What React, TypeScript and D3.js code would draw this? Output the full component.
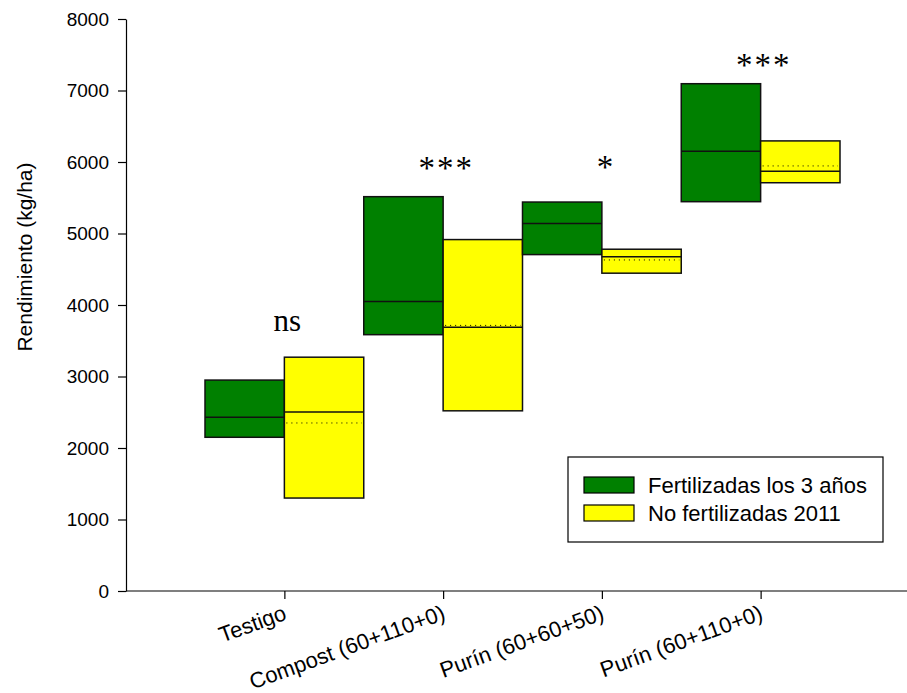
import React, { useEffect, useRef } from 'react';
import * as d3 from 'd3';

const categories = ['Testigo', 'Compost (60+110+0)', 'Purín (60+60+50)', 'Purín (60+110+0)'];
const seriesNames = ['Fertilizadas los 3 años', 'No fertilizadas 2011'];
const seriesColors = ['#008000', '#ffff00'];

// Fertilizadas los 3 años
const fertTop = [2950, 5515, 5440, 7095];
const fertMedian = [2430, 4050, 5140, 6150];
const fertBottom = [2150, 3585, 4705, 5445];

// No fertilizadas 2011
const noFertTop = [3270, 4915, 4780, 6295];
const noFertMedian = [2505, 3690, 4675, 5870];
const noFertMean = [2350, 3715, 4630, 5945];
const noFertBottom = [1300, 2520, 4445, 5710];

const signif = ['ns', '***', '*', '***'];
const signifY = [3640, 5760, 5775, 7200];

const yTicks = [0, 1000, 2000, 3000, 4000, 5000, 6000, 7000, 8000];

const App = () => {
    const ref = useRef<SVGSVGElement>(null);

    useEffect(() => {
        const svg = d3.select(ref.current);
        svg.selectAll('*').remove();

        const left = 126, top = 19, bottom = 591, right = 907;
        const sans = '"Liberation Sans", Arial, sans-serif';

        const y = d3.scaleLinear().domain([0, 8000]).range([bottom, top]);
        // boxes sit in 8 contiguous slots, two per category
        const slot = d3.scaleLinear().domain([0, 8]).range([205, 840]);
        const xCat = d3.scalePoint().domain(categories).range([slot(1), slot(7)]);

        const boxes = categories.flatMap((c, i) => [
            { s: 0, slot: i * 2, top: fertTop[i], med: fertMedian[i], bot: fertBottom[i], mean: null },
            { s: 1, slot: i * 2 + 1, top: noFertTop[i], med: noFertMedian[i], bot: noFertBottom[i], mean: noFertMean[i] },
        ]);

        const g = svg.append('g');

        g.selectAll('rect.box')
            .data(boxes)
            .enter()
            .append('rect')
            .attr('class', 'box')
            .attr('x', d => slot(d.slot))
            .attr('width', slot(1) - slot(0))
            .attr('y', d => y(d.top))
            .attr('height', d => y(d.bot) - y(d.top))
            .attr('fill', d => seriesColors[d.s])
            .attr('stroke', '#111')
            .attr('stroke-width', 1.5);

        g.selectAll('line.med')
            .data(boxes)
            .enter()
            .append('line')
            .attr('x1', d => slot(d.slot))
            .attr('x2', d => slot(d.slot + 1))
            .attr('y1', d => y(d.med))
            .attr('y2', d => y(d.med))
            .attr('stroke', '#111')
            .attr('stroke-width', 1.5);

        g.selectAll('line.mean')
            .data(boxes.filter(d => d.mean != null))
            .enter()
            .append('line')
            .attr('x1', d => slot(d.slot) + 2)
            .attr('x2', d => slot(d.slot + 1) - 2)
            .attr('y1', d => y(d.mean as number))
            .attr('y2', d => y(d.mean as number))
            .attr('stroke', '#000')
            .attr('stroke-width', 1)
            .attr('stroke-dasharray', '1,4');

        // significance marks
        g.selectAll('text.sig')
            .data(signif)
            .enter()
            .append('text')
            .attr('x', (d, i) => slot(i * 2 + 1) + 3)
            .attr('y', (d, i) => y(signifY[i]))
            .attr('text-anchor', 'middle')
            .style('font-family', '"Liberation Serif", "Times New Roman", serif')
            .style('font-size', d => (d === 'ns' ? '31px' : '33px'))
            .style('letter-spacing', d => (d.length > 2 ? '2px' : '0px'))
            .text(d => d);

        // y axis
        const yAxis = svg.append('g')
            .attr('transform', `translate(${left},0)`)
            .call(d3.axisLeft(y).tickValues(yTicks).tickFormat(d3.format('d')).tickSize(8).tickPadding(9).tickSizeOuter(0));
        yAxis.select('.domain').attr('stroke', '#000').attr('stroke-width', 1.2);
        yAxis.selectAll('line').attr('stroke', '#000').attr('stroke-width', 1.2);
        yAxis.selectAll('text')
            .style('font-family', sans)
            .style('font-size', '19px')
            .attr('fill', '#000');

        // x axis
        svg.append('line')
            .attr('x1', left).attr('x2', right)
            .attr('y1', bottom).attr('y2', bottom)
            .attr('stroke', '#000').attr('stroke-width', 1.2);
        const xAxis = svg.append('g')
            .attr('transform', `translate(0,${bottom})`)
            .call(d3.axisBottom(xCat).tickSize(8).tickSizeOuter(0));
        xAxis.select('.domain').remove();
        xAxis.selectAll('line').attr('stroke', '#000').attr('stroke-width', 1.2);
        xAxis.selectAll('text')
            .attr('text-anchor', 'end')
            .attr('dy', null)
            .attr('y', null)
            .attr('transform', 'translate(3,28) rotate(-20)')
            .style('font-family', sans)
            .style('font-size', '22px')
            .attr('fill', '#000');

        svg.append('text')
            .attr('transform', 'translate(32,257) rotate(-90)')
            .attr('text-anchor', 'middle')
            .style('font-family', sans)
            .style('font-size', '21px')
            .text('Rendimiento (kg/ha)');

        // legend
        const leg = svg.append('g').attr('transform', 'translate(568,457)');
        leg.append('rect')
            .attr('width', 315).attr('height', 85)
            .attr('fill', '#fff').attr('stroke', '#000').attr('stroke-width', 1.2);
        const item = leg.selectAll('g.item')
            .data(seriesNames)
            .enter()
            .append('g')
            .attr('transform', (d, i) => `translate(16,${20 + i * 28})`);
        item.append('rect')
            .attr('width', 50).attr('height', 16)
            .attr('fill', (d, i) => seriesColors[i])
            .attr('stroke', '#000').attr('stroke-width', 1.2);
        item.append('text')
            .attr('x', 64).attr('y', 16)
            .style('font-family', sans)
            .style('font-size', '22px')
            .text(d => d);
    }, []);

    return (
        <svg ref={ref} width={907} height={693} style={{ position: 'absolute', left: 0, top: 0 }} />
    );
};

export default App;
